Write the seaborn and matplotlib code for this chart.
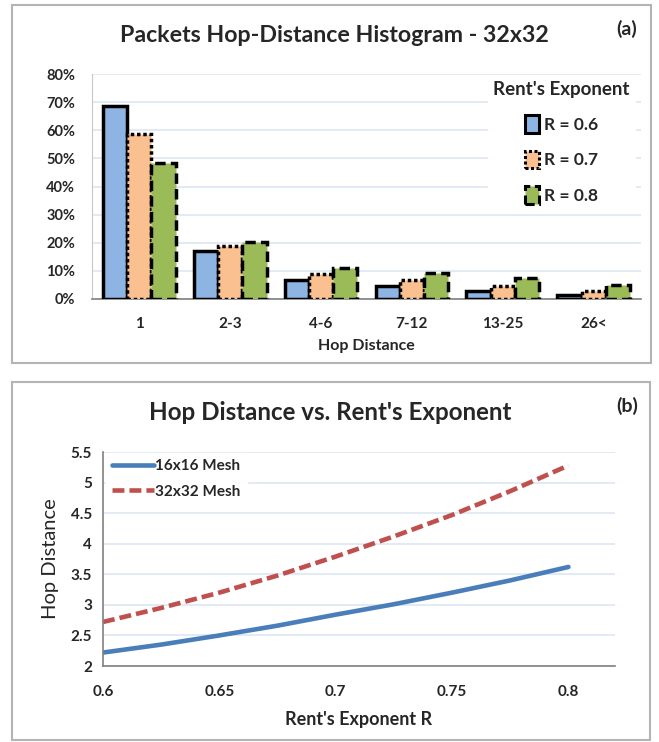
import numpy as np
import pandas as pd
import matplotlib
matplotlib.use("Agg")
import matplotlib.pyplot as plt
from matplotlib.patches import Rectangle, Patch
from matplotlib.lines import Line2D
import seaborn as sns

# ---------------- data ----------------
hop_bins = ["1", "2-3", "4-6", "7-12", "13-25", "26<"]
r06 = [68.6, 17.1, 6.8, 4.6, 3.0, 1.4]
r07 = [58.8, 18.8, 8.9, 6.8, 4.7, 3.0]
r08 = [48.2, 20.1, 11.1, 9.1, 7.5, 5.0]
series_labels = ["R = 0.6", "R = 0.7", "R = 0.8"]

rent_r = [0.6, 0.625, 0.65, 0.675, 0.7, 0.725, 0.75, 0.775, 0.8]
mesh16 = [2.22, 2.35, 2.50, 2.66, 2.84, 3.01, 3.20, 3.40, 3.62]
mesh32 = [2.72, 2.95, 3.20, 3.48, 3.79, 4.12, 4.47, 4.86, 5.28]

pct_ticks = [0, 10, 20, 30, 40, 50, 60, 70, 80]
pct_labels = ["0%", "10%", "20%", "30%", "40%", "50%", "60%", "70%", "80%"]
hop_ticks = [2, 2.5, 3, 3.5, 4, 4.5, 5, 5.5]
hop_labels = ["2", "2.5", "3", "3.5", "4", "4.5", "5", "5.5"]
r_ticks = [0.6, 0.65, 0.7, 0.75, 0.8]
r_labels = ["0.6", "0.65", "0.7", "0.75", "0.8"]

# ---------------- style ----------------
sns.set_style("white")
plt.rcParams["font.family"] = ["Lato", "DejaVu Sans"]

W, H = 659, 742
fig = plt.figure(figsize=(W / 100, H / 100), dpi=100)
fig.patch.set_facecolor("white")

def fx(px):
    return px / W

def fy(py):
    return 1 - py / H

def add_axes_px(left, top, right, bottom):
    return fig.add_axes([fx(left), fy(bottom), (right - left) / W, (bottom - top) / H])

# panel borders
for (l, t, r, b) in [(12, 5, 651, 363), (12, 382, 650, 740)]:
    fig.patches.append(Rectangle((fx(l), fy(b)), (r - l) / W, (b - t) / H,
                                 transform=fig.transFigure, fill=False,
                                 edgecolor="#b4b4b4", linewidth=1.5, zorder=0))

grid_col = "#dbe6f3"
colors = ["#8eb4e3", "#fac090", "#9bbb59"]
styles = ["solid", (0, (1, 0.8)), (0, (3, 1.5))]

# ---------------- panel (a) ----------------
df = pd.DataFrame({
    "Hop": hop_bins * 3,
    "Value": r06 + r07 + r08,
    "Series": sum([[s] * len(hop_bins) for s in series_labels], []),
})
axa = add_axes_px(92, 74, 641, 299)
sns.barplot(data=df, x="Hop", y="Value", hue="Series", order=hop_bins,
            hue_order=series_labels, palette=colors, width=0.8,
            ax=axa, legend=False, saturation=1, errorbar=None)
for cont, ls in zip(axa.containers, styles):
    for bar in cont:
        bar.set_edgecolor("black")
        bar.set_linewidth(2.5)
        bar.set_linestyle(ls)
        bar.set_zorder(3)
axa.set_ylim(0, 80)
axa.set_xlim(-0.52, 5.52)
axa.set_yticks(pct_ticks)
axa.set_yticklabels(pct_labels, fontsize=10.5, fontweight="bold")
axa.set_xticks(range(len(hop_bins)))
axa.set_xticklabels(hop_bins, fontsize=11, fontweight="bold")
axa.tick_params(axis="both", length=0)
axa.tick_params(axis="x", pad=13)
axa.tick_params(axis="y", pad=12)
axa.yaxis.grid(True, color=grid_col, linewidth=1.2)
axa.set_axisbelow(True)
for s in ["top", "right"]:
    axa.spines[s].set_visible(False)
axa.spines["left"].set_color("#c8c8c8")
axa.spines["bottom"].set_color("#808080")
axa.spines["bottom"].set_linewidth(1.2)
axa.set_xlabel("Hop Distance", fontsize=11.5, fontweight="bold", labelpad=6)
axa.set_ylabel("")

handles = [Patch(facecolor=c, edgecolor="black", linewidth=2.2, linestyle=ls)
           for c, ls in zip(colors, styles)]
leg = axa.legend(handles, series_labels, title="Rent's Exponent",
                 loc="upper right", bbox_to_anchor=(1.005, 1.03),
                 frameon=True, fancybox=False, edgecolor="white",
                 framealpha=1, handlelength=0.8, handleheight=1.2,
                 handletextpad=0.25, labelspacing=1.0,
                 prop={"size": 12.5, "weight": "bold"},
                 title_fontproperties={"size": 13.5, "weight": "bold"},
                 borderpad=0.3)

fig.text(fx(334), fy(36), "Packets Hop-Distance Histogram - 32x32",
         ha="center", va="center", fontsize=16.7, fontweight="bold")
fig.text(fx(627), fy(29), "(a)", ha="center", va="center",
         fontsize=14, fontweight="bold")

# ---------------- panel (b) ----------------
dfl = pd.DataFrame({
    "R": rent_r * 2,
    "Hop": mesh16 + mesh32,
    "Mesh": ["16x16 Mesh"] * len(rent_r) + ["32x32 Mesh"] * len(rent_r),
})
axb = add_axes_px(103, 452, 615, 666)
sns.lineplot(data=dfl, x="R", y="Hop", hue="Mesh", style="Mesh",
             palette=["#4a7ebb", "#c0504d"],
             dashes=[(None, None), (2.6, 1.1)], linewidth=3.3,
             ax=axb, legend=False)
axb.set_xlim(0.6, 0.82)
axb.set_ylim(2, 5.5)
axb.set_xticks(r_ticks)
axb.set_xticklabels(r_labels, fontsize=11, fontweight="bold")
axb.set_yticks(hop_ticks)
axb.set_yticklabels(hop_labels, fontsize=11, fontweight="bold")
axb.tick_params(axis="both", length=0)
axb.tick_params(axis="x", pad=14)
axb.tick_params(axis="y", pad=8)
axb.yaxis.grid(True, color=grid_col, linewidth=1.2)
axb.set_axisbelow(True)
for s in ["top", "right"]:
    axb.spines[s].set_visible(False)
axb.spines["left"].set_color("#808080")
axb.spines["bottom"].set_color("#808080")
axb.spines["left"].set_linewidth(1.2)
axb.spines["bottom"].set_linewidth(1.2)
axb.set_xlabel("Rent's Exponent R", fontsize=13, fontweight="bold", labelpad=8)
axb.set_ylabel("Hop Distance", fontsize=14.5, labelpad=8)

lh = [Line2D([], [], color="#4a7ebb", linewidth=3.3),
      Line2D([], [], color="#c0504d", linewidth=3.3, dashes=(2.6, 1.1))]
axb.legend(lh, ["16x16 Mesh", "32x32 Mesh"], loc="upper left",
           bbox_to_anchor=(-0.01, 1.03), frameon=True, fancybox=False,
           edgecolor="white", framealpha=1, handlelength=2.8,
           handletextpad=0.05, labelspacing=0.75,
           prop={"size": 11, "weight": "bold"}, borderpad=0.4)

fig.text(fx(330), fy(412), "Hop Distance vs. Rent's Exponent",
         ha="center", va="center", fontsize=17.4, fontweight="bold")
fig.text(fx(627), fy(406), "(b)", ha="center", va="center",
         fontsize=14, fontweight="bold")

fig.savefig("out.png", dpi=100)
